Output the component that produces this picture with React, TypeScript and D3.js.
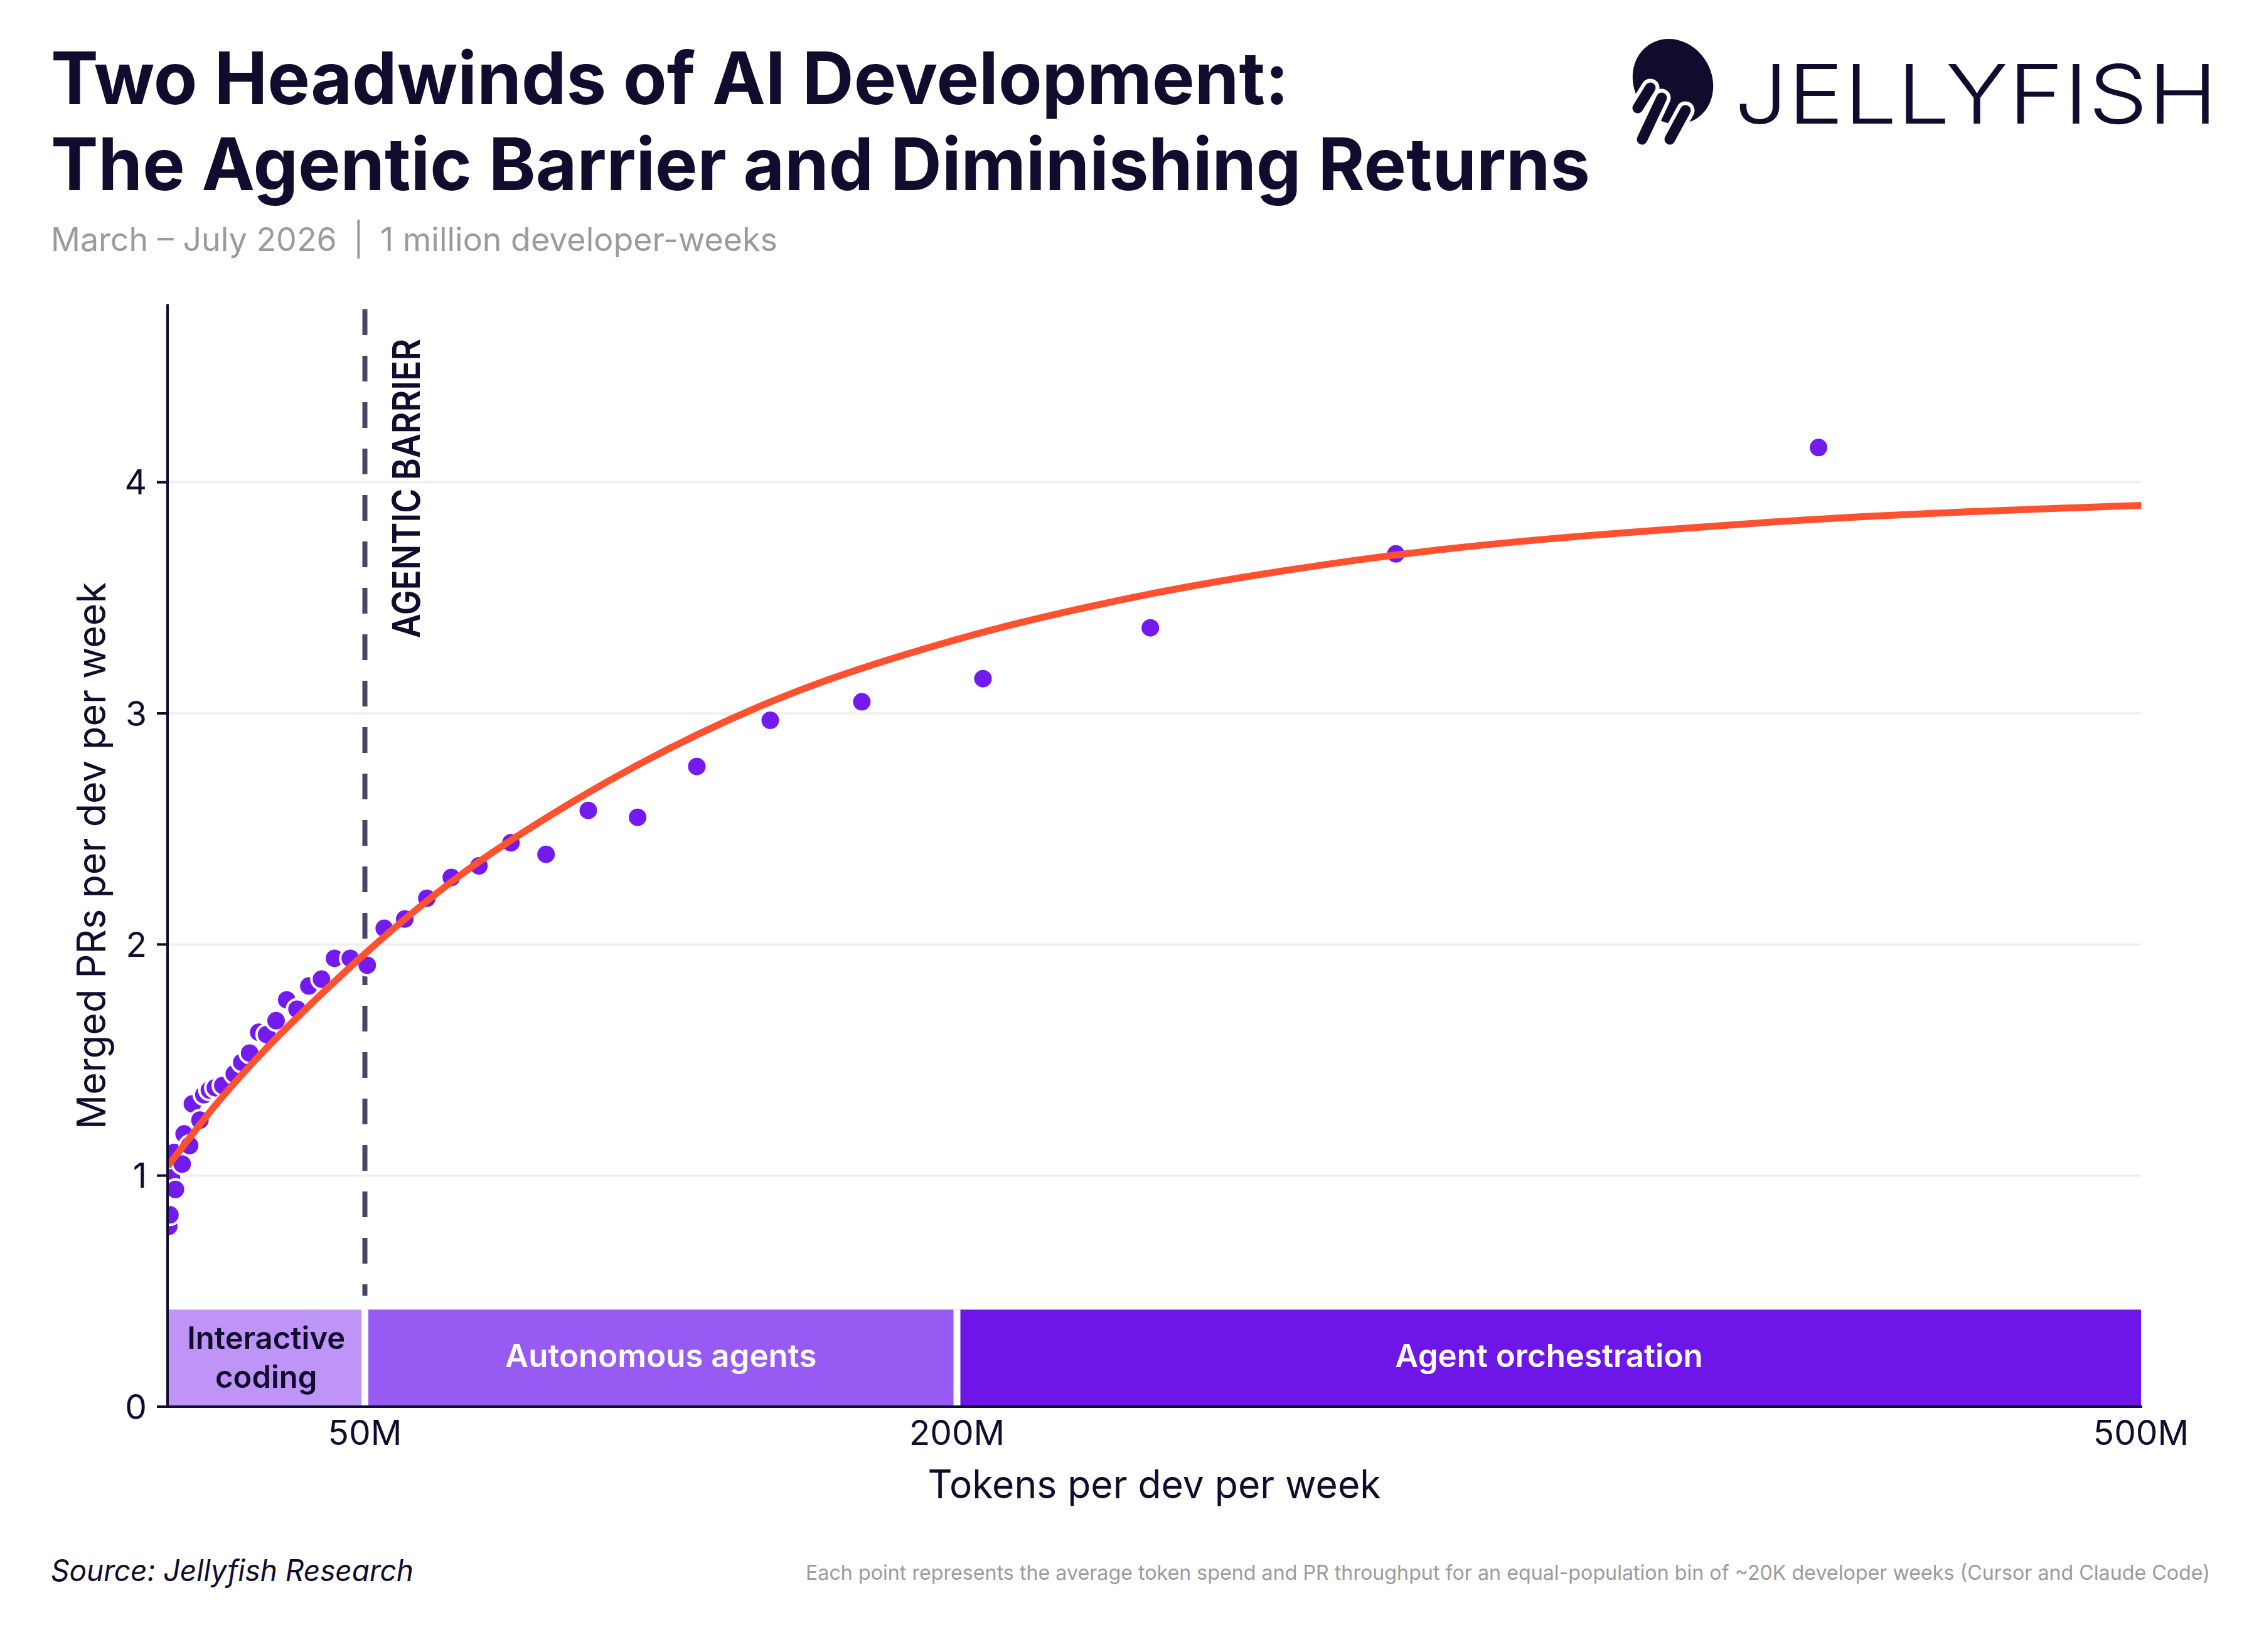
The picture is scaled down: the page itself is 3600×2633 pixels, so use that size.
import * as d3 from "d3";

// measured values, tokens in millions per dev per week
const tokensM = [
  0.3, 0.6, 1.0, 1.7, 2.0, 3.7, 4.2, 5.6, 6.3, 8.2, 9.2, 10.6, 12.1, 14.0, 16.9,
  18.8, 20.8, 23.1, 25.1, 27.5, 30.2, 32.8, 35.8, 39.0, 42.3, 46.3, 50.6, 54.9,
  60.1, 65.7, 71.9, 78.9, 87.0, 95.9, 106.6, 119.1, 134.1, 152.7, 175.9, 206.6,
  249.0, 311.2, 418.3,
];
const mergedPRs = [
  0.78, 0.83, 0.99, 1.1, 0.94, 1.05, 1.18, 1.13, 1.31, 1.24, 1.35, 1.37, 1.38,
  1.39, 1.44, 1.49, 1.53, 1.62, 1.61, 1.67, 1.76, 1.72, 1.82, 1.85, 1.94, 1.94,
  1.91, 2.07, 2.11, 2.2, 2.29, 2.34, 2.44, 2.39, 2.58, 2.55, 2.77, 2.97, 3.05,
  3.15, 3.37, 3.69, 4.15,
];

// fitted curve
const fitTokensM = [0, 5, 10, 25, 35, 50, 75, 100, 150, 200, 250, 300, 400, 500];
const fitPRs = [1.04, 1.15, 1.26, 1.55, 1.72, 1.96, 2.31, 2.59, 3.03, 3.32, 3.52, 3.66, 3.82, 3.9];

const phaseNames = ["Interactive coding", "Autonomous agents", "Agent orchestration"];
const phaseStart = [0, 50, 200];
const phaseEnd = [50, 200, 500];
const phaseTop = 0.42;

const barrierM = 50;
const yTicks = [0, 1, 2, 3, 4];
const xTicks = [50, 200, 500];
const xTickLabels = ["50M", "200M", "500M"];

const W = 3600;
const H = 2633;
const ink = "#100c2e";
const font = "Inter, 'Noto Sans', sans-serif";
const phaseColors = ["#be95f7", "#975af2", "#6e16e8"];
const phaseText = [ink, "#ffffff", "#ffffff"];

export default function App() {
  const x = d3.scaleLinear().domain([0, 500]).range([267, 3412]);
  const y = d3.scaleLinear().domain([0, 4.77]).range([2242, 485]);

  const fit = d3
    .line<number>()
    .x((d, i) => x(fitTokensM[i]))
    .y((d) => y(d))
    .curve(d3.curveMonotoneX);

  const [x0, x1] = x.range();
  const [yBottom, yTop] = y.range();

  return (
    <svg
      width={W}
      height={H}
      viewBox={`0 0 ${W} ${H}`}
      style={{ position: "absolute", left: 0, top: 0, background: "#fff" }}
      fontFamily={font}
    >
      <defs>
        <clipPath id="plot">
          <rect x={x0} y={yTop - 20} width={x1 - x0 + 30} height={yBottom - yTop + 20} />
        </clipPath>
      </defs>
      <rect width={W} height={H} fill="#fff" />

      {/* title */}
      <text x={81} y={166} fontSize={116} fontWeight={700} fill={ink} textLength={1973} lengthAdjust="spacingAndGlyphs">
        Two Headwinds of AI Development:
      </text>
      <text x={81} y={303} fontSize={116} fontWeight={700} fill={ink} textLength={2453} lengthAdjust="spacingAndGlyphs">
        The Agentic Barrier and Diminishing Returns
      </text>
      <text x={81} y={400} fontSize={52} fill="#9b9b9b" textLength={1158} lengthAdjust="spacingAndGlyphs">
        {"March – July 2026\u2002|\u20021 million developer-weeks"}
      </text>

      {/* logo */}
      <g fill={ink}>
        <ellipse cx={2666} cy={130} rx={70} ry={62} transform="rotate(59 2666 130)" />
        <g strokeLinecap="round" fill="none">
          <path d="M2630,140 L2610,172" stroke="#fff" strokeWidth={29} />
          <path d="M2648,156 L2617,222" stroke="#fff" strokeWidth={29} />
          <path d="M2686,176 L2661,222" stroke="#fff" strokeWidth={29} />
          <path d="M2630,140 L2610,172" stroke={ink} strokeWidth={17} />
          <path d="M2648,156 L2617,222" stroke={ink} strokeWidth={17} />
          <path d="M2686,176 L2661,222" stroke={ink} strokeWidth={17} />
        </g>
        <text x={2764} y={197} fontSize={130} fontWeight={300} textLength={770} lengthAdjust="spacingAndGlyphs">
          JELLYFISH
        </text>
      </g>

      {/* gridlines */}
      {yTicks.slice(1).map((t) => (
        <line key={t} x1={x0} x2={x1} y1={y(t)} y2={y(t)} stroke="#efefef" strokeWidth={3.5} />
      ))}

      {/* phase bands */}
      {phaseNames.map((name, i) => (
        <rect
          key={name}
          x={x(phaseStart[i])}
          y={y(phaseTop)}
          width={x(phaseEnd[i]) - x(phaseStart[i])}
          height={y(0) - y(phaseTop)}
          fill={phaseColors[i]}
        />
      ))}
      {phaseStart.slice(1).map((s) => (
        <line key={s} x1={x(s)} x2={x(s)} y1={y(phaseTop)} y2={y(0)} stroke="#fff" strokeWidth={11} />
      ))}
      {phaseNames.map((name, i) => {
        const cx = (x(phaseStart[i]) + x(phaseEnd[i])) / 2;
        if (i === 0) {
          const words = name.split(" ");
          return (
            <text key={name} x={cx} textAnchor="middle" fontSize={49} fontWeight={600} fill={phaseText[i]}>
              <tspan x={cx} y={2150}>{words[0]}</tspan>
              <tspan x={cx} y={2212}>{words[1]}</tspan>
            </text>
          );
        }
        return (
          <text key={name} x={cx} y={2179} textAnchor="middle" fontSize={51} fontWeight={600} fill={phaseText[i]}>
            {name}
          </text>
        );
      })}

      {/* agentic barrier */}
      <line
        x1={x(barrierM)}
        x2={x(barrierM)}
        y1={yTop + 8}
        y2={y(0.48)}
        stroke="#4a4563"
        strokeWidth={8}
        strokeDasharray="41,33"
      />
      <text
        transform={`translate(669, 1017) rotate(-90)`}
        fontSize={60}
        fontWeight={600}
        fill={ink}
        textLength={477}
        lengthAdjust="spacingAndGlyphs"
      >
        AGENTIC BARRIER
      </text>

      {/* points and fit */}
      <g clipPath="url(#plot)">
        {tokensM.map((t, i) => (
          <circle key={i} cx={x(t)} cy={y(mergedPRs[i])} r={16} fill="#731aee" stroke="#fff" strokeWidth={4} />
        ))}
        <path d={fit(fitPRs) ?? ""} fill="none" stroke="#ff512f" strokeWidth={11} strokeLinecap="butt" />
      </g>

      {/* axes */}
      <line x1={x0} x2={x0} y1={yTop} y2={yBottom} stroke={ink} strokeWidth={4} />
      <line x1={250} x2={x1 + 2} y1={yBottom} y2={yBottom} stroke={ink} strokeWidth={4} />
      {yTicks.map((t) => (
        <g key={t}>
          <line x1={250} x2={x0} y1={y(t)} y2={y(t)} stroke={ink} strokeWidth={4} />
          <text x={234} y={y(t)} dy="0.36em" textAnchor="end" fontSize={55} fill={ink}>
            {t}
          </text>
        </g>
      ))}
      {xTicks.map((t, i) => (
        <text key={t} x={x(t)} y={2303} textAnchor="middle" fontSize={55} fill={ink}>
          {xTickLabels[i]}
        </text>
      ))}
      <text x={(x0 + x1) / 2} y={2388} textAnchor="middle" fontSize={63} fill={ink} textLength={722} lengthAdjust="spacingAndGlyphs">
        Tokens per dev per week
      </text>
      <text
        transform={`translate(168, 1364) rotate(-90)`}
        textAnchor="middle"
        fontSize={63}
        fill={ink}
        textLength={872}
        lengthAdjust="spacingAndGlyphs"
      >
        Merged PRs per dev per week
      </text>

      {/* footer */}
      <text x={81} y={2520} fontSize={48} fontStyle="italic" fill={ink} textLength={578} lengthAdjust="spacingAndGlyphs">
        Source: Jellyfish Research
      </text>
      <text x={3522} y={2518} textAnchor="end" fontSize={33} fill="#9b9b9b" textLength={2238} lengthAdjust="spacingAndGlyphs">
        Each point represents the average token spend and PR throughput for an equal-population bin of ~20K developer weeks (Cursor and Claude Code)
      </text>
    </svg>
  );
}
